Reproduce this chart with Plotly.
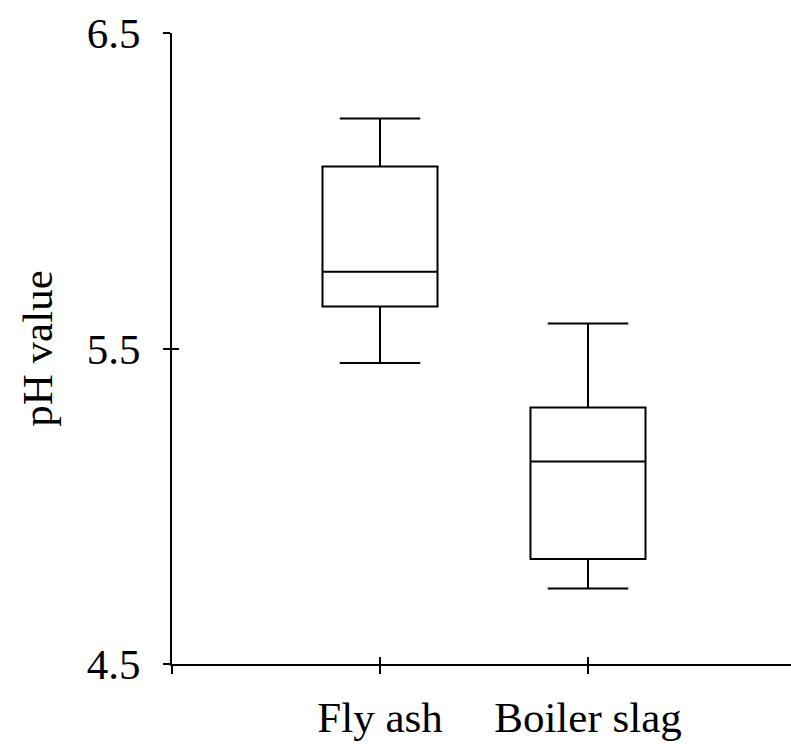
import plotly.graph_objects as go

categories = ["Fly ash", "Boiler slag"]
cat_pos = [0, 1]
lower_whisker = [5.454, 4.739]
q1_vals = [5.633, 4.833]
median_vals = [5.743, 5.142]
q3_vals = [6.077, 5.313]
upper_whisker = [6.229, 5.579]

y_ticks = [4.5, 5.5, 6.5]
y_ticktext = ["4.5", "5.5", "6.5"]
x_ticks = [-1, 0, 1]
x_ticktext = ["", "Fly ash", "Boiler slag"]

FONT = "Liberation Serif, Times New Roman, serif"

fig = go.Figure()
fig.add_trace(go.Box(
    x=cat_pos,
    q1=q1_vals, median=median_vals, q3=q3_vals,
    lowerfence=lower_whisker, upperfence=upper_whisker,
    width=0.553, whiskerwidth=0.70,
    fillcolor="white", line=dict(color="black", width=2),
    boxpoints=False, showlegend=False, hoverinfo="skip",
))
# invisible helper trace for overlay axes (inward half of crossing ticks)
fig.add_trace(go.Scatter(x=[0], y=[5.5], xaxis="x2", yaxis="y2",
                         mode="markers", marker=dict(opacity=0),
                         showlegend=False, hoverinfo="skip"))

xr = [-1, 1.976]
yr = [4.5, 6.5]

fig.update_layout(
    width=791, height=744,
    margin=dict(l=172, r=0, t=33, b=80, autoexpand=False),
    paper_bgcolor="white", plot_bgcolor="white",
    font=dict(family=FONT, size=43, color="black"),
    xaxis=dict(range=xr, tickvals=x_ticks, ticktext=x_ticktext, automargin=False,
               showline=True, linecolor="black", linewidth=2,
               ticks="outside", ticklen=8, tickwidth=1.5, tickcolor="black",
               showgrid=False, zeroline=False, ticklabelstandoff=6,
               tickfont=dict(family=FONT, size=43)),
    yaxis=dict(range=yr, tickvals=y_ticks, ticktext=y_ticktext, automargin=False,
               showline=True, linecolor="black", linewidth=2,
               ticks="outside", ticklen=7, tickwidth=1.5, tickcolor="black",
               showgrid=False, zeroline=False, ticklabelstandoff=14,
               title=dict(text="pH value", font=dict(family=FONT, size=43), standoff=21),
               tickfont=dict(family=FONT, size=43)),
    xaxis2=dict(range=xr, overlaying="x", anchor="y2", tickvals=x_ticks, automargin=False,
                showticklabels=False, showline=False, showgrid=False, zeroline=False,
                ticks="inside", ticklen=7, tickwidth=1.5, tickcolor="black",
                side="bottom"),
    yaxis2=dict(range=yr, overlaying="y", anchor="x2", tickvals=y_ticks, automargin=False,
                showticklabels=False, showline=False, showgrid=False, zeroline=False,
                ticks="inside", ticklen=7, tickwidth=1.5, tickcolor="black",
                side="left"),
)

fig.write_html("out.html")
